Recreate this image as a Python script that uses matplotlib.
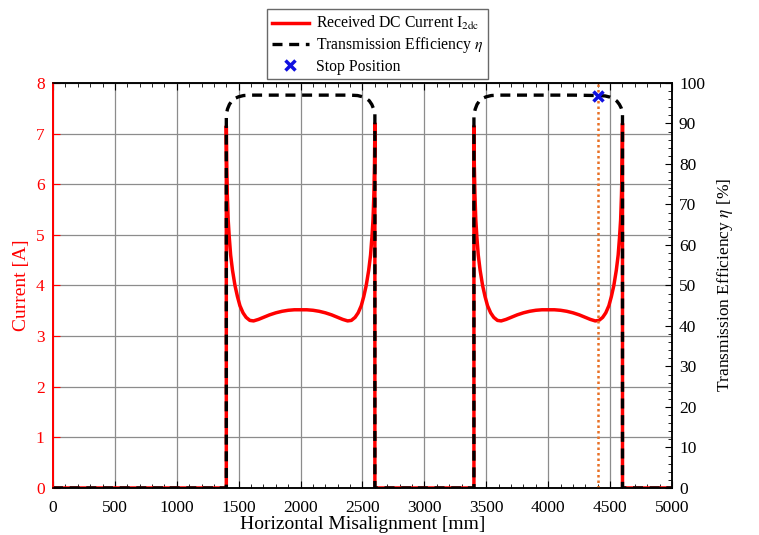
import matplotlib.pyplot as plt
from matplotlib.ticker import MultipleLocator

plt.rcParams['font.family'] = ['Liberation Serif', 'DejaVu Serif']
plt.rcParams['mathtext.fontset'] = 'stix'

# zero stretches (no transfer)
zero_x = [[0, 1400], [2600, 3400], [4600, 5000]]

# first coil hump: position [mm], current [A]
hump1_x = [1400, 1403, 1408, 1415, 1424, 1435, 1450, 1470, 1490, 1510, 1535, 1560, 1590, 1620,
           1660, 1700, 1750, 1800, 1850, 1900, 1950, 2000, 2050, 2100, 2150, 2200, 2250, 2300,
           2340, 2380, 2410, 2440, 2465, 2490, 2510, 2530, 2550, 2565, 2576, 2585, 2592, 2597, 2600]
hump1_cur = [7.15, 6.4, 5.8, 5.3, 4.95, 4.6, 4.3, 4.0, 3.78, 3.6, 3.46, 3.37, 3.31, 3.30,
             3.33, 3.37, 3.42, 3.46, 3.49, 3.51, 3.52, 3.52, 3.52, 3.51, 3.49, 3.46, 3.42, 3.37,
             3.33, 3.30, 3.31, 3.37, 3.46, 3.6, 3.78, 4.0, 4.3, 4.6, 4.95, 5.3, 5.8, 6.4, 7.2]

# second coil hump
hump2_x = [3400, 3403, 3408, 3415, 3424, 3435, 3450, 3470, 3490, 3510, 3535, 3560, 3590, 3620,
           3660, 3700, 3750, 3800, 3850, 3900, 3950, 4000, 4050, 4100, 4150, 4200, 4250, 4300,
           4340, 4380, 4410, 4440, 4465, 4490, 4510, 4530, 4550, 4565, 4576, 4585, 4592, 4597, 4600]
hump2_cur = [7.15, 6.4, 5.8, 5.3, 4.95, 4.6, 4.3, 4.0, 3.78, 3.6, 3.46, 3.37, 3.31, 3.30,
             3.33, 3.37, 3.42, 3.46, 3.49, 3.51, 3.52, 3.52, 3.52, 3.51, 3.49, 3.46, 3.42, 3.37,
             3.33, 3.30, 3.31, 3.37, 3.46, 3.6, 3.78, 4.0, 4.3, 4.6, 4.95, 5.3, 5.8, 6.4, 7.2]

# efficiency [%]
eff1_x = [1400, 1410, 1425, 1445, 1470, 1500, 1540, 1600, 1800, 2000, 2200, 2400,
          2460, 2500, 2530, 2555, 2575, 2590, 2600]
eff1 = [92.3, 93.6, 94.7, 95.6, 96.2, 96.6, 96.9, 97.0, 97.0, 97.0, 97.0, 97.0,
        96.9, 96.6, 96.2, 95.6, 94.7, 93.6, 92.5]
eff2_x = [3400, 3410, 3425, 3445, 3470, 3500, 3540, 3600, 3800, 4000, 4200, 4400,
          4460, 4500, 4530, 4555, 4575, 4590, 4600]
eff2 = [92.0, 93.5, 94.7, 95.6, 96.2, 96.6, 96.9, 97.0, 97.0, 97.0, 97.0, 96.9,
        96.8, 96.5, 96.1, 95.5, 94.7, 93.8, 92.8]

stop_x = 4400
stop_eff = 96.9

x_cur = zero_x[0] + hump1_x + zero_x[1] + hump2_x + zero_x[2]
y_cur = [0, 0] + hump1_cur + [0, 0] + hump2_cur + [0, 0]
x_eff = zero_x[0] + eff1_x + zero_x[1] + eff2_x + zero_x[2]
y_eff = [0, 0] + eff1 + [0, 0] + eff2 + [0, 0]

fig = plt.figure(figsize=(7.59, 5.35), dpi=100)
ax = fig.add_axes([0.0698, 0.0879, 0.8156, 0.757])
ax2 = ax.twinx()

l1, = ax.plot(x_cur, y_cur, color='red', lw=2.5, label='Received DC Current I$_{2\\mathrm{dc}}$')
l2, = ax2.plot(x_eff, y_eff, color='black', lw=2.4, dashes=(3, 2),
               label='Transmission Efficiency $\\eta$')
ax2.axvline(stop_x, color='#e87025', lw=1.8, ls=(0, (1, 1.2)))
l3, = ax2.plot([stop_x], [stop_eff], 'x', color='#1010e0', ms=7, mew=2.5, ls='none',
               label='Stop Position')

ax.set_xlim(0, 5000)
ax.set_ylim(0, 8)
ax2.set_ylim(0, 100)
ax.xaxis.set_major_locator(MultipleLocator(500))
ax.xaxis.set_minor_locator(MultipleLocator(100))
ax.yaxis.set_major_locator(MultipleLocator(1))
ax2.yaxis.set_major_locator(MultipleLocator(10))
ax2.yaxis.set_minor_locator(MultipleLocator(2))

ax.grid(True, which='major', color='#8c8c8c', lw=0.9)
ax.set_axisbelow(True)

ax.tick_params(axis='x', which='both', direction='in', top=True, labelsize=12.5,
               colors='black', pad=9)
ax.tick_params(axis='x', which='major', length=5)
ax.tick_params(axis='x', which='minor', length=3)
ax.tick_params(axis='y', direction='in', length=5, colors='red', labelsize=12.5, pad=6)
ax2.tick_params(axis='y', which='major', direction='in', length=5, labelsize=12.5, pad=5)
ax2.tick_params(axis='y', which='minor', direction='in', length=3)

for a in (ax, ax2):
    a.spines['left'].set_color('red')
    a.spines['left'].set_linewidth(1.3)
    for s in ('top', 'bottom', 'right'):
        a.spines[s].set_linewidth(1.1)

ax.set_xlabel('Horizontal Misalignment [mm]', fontsize=14, labelpad=0)
ax.set_ylabel('Current [A]', fontsize=14, color='red', labelpad=4)
ax2.set_ylabel('Transmission Efficiency $\\eta$ [%]', fontsize=12.5, labelpad=7)

leg = fig.legend(handles=[l1, l2, l3], loc='upper center', bbox_to_anchor=(0.497, 0.997),
                 fontsize=11.3, frameon=True, fancybox=False, edgecolor='#444444',
                 handlelength=2.4, borderpad=0.3, labelspacing=0.2, handletextpad=0.4)
leg.get_frame().set_linewidth(1.0)

fig.savefig('out.png', dpi=100)
